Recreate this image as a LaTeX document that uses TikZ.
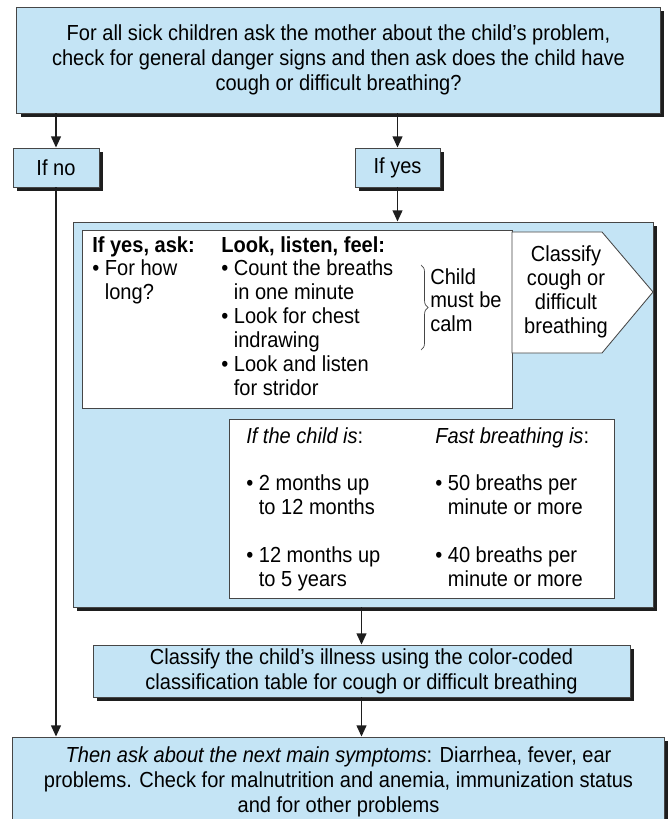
\documentclass[tikz,border=0pt]{standalone}
\usepackage{fontspec}
\setmainfont{Liberation Sans}[FakeStretch=0.92]
\usepackage{tikz}
\usetikzlibrary{positioning,arrows.meta,shadows,decorations.pathreplacing,calc}
\definecolor{celeste}{RGB}{196,228,245}
\definecolor{borde}{RGB}{70,70,70}
\definecolor{sombra}{RGB}{30,30,30}

\begin{document}
\begin{tikzpicture}[x=0.025cm, y=-0.025cm,
  caja/.style={draw=borde, fill=celeste, line width=0.6pt, inner sep=0pt,
               align=center, font=\fontsize{15.5}{17.8}\selectfont,
               drop shadow={shadow xshift=3pt, shadow yshift=-3pt,
                            fill=sombra, opacity=1}},
  blanca/.style={draw=borde, fill=white, line width=0.6pt, inner sep=0pt},
  texto/.style={anchor=north west, align=left, inner sep=0pt,
                font=\fontsize{15.5}{17}\selectfont},
  flecha/.style={-{Triangle[length=8pt, width=7pt]}, line width=1.2pt,
                 color=sombra}]
  \useasboundingbox (0,0) rectangle (670,819);
  % Pregunta inicial
  \node[caja, minimum width=16.075cm, minimum height=2.65cm] (inicio)
       at (338.5,60) {For all sick children ask the mother about the child’s problem,\\
       check for general danger signs and then ask does the child have\\
       cough or difficult breathing?};
  \node[caja, minimum width=2.15cm, minimum height=0.975cm] (no) at (56,167.5) {If no};
  \node[caja, minimum width=2.125cm, minimum height=0.975cm] (si) at (397.5,167.5) {If yes};
  % Marco de evaluacion
  \node[caja, minimum width=14.5cm, minimum height=9.625cm] (marco) at (363,414.5) {};
  \node[blanca, minimum width=10.75cm, minimum height=4.45cm] (preguntas) at (297,319) {};
  \draw[blanca] (512,232) coordinate (pa) -- (602,232) -- (653,292) coordinate (punta)
       -- (602,353) -- (512,353) -- cycle;
  \node[texto] (preguntar) at (92,236) {\textbf{If yes, ask:}\\
       • For how\\ \hphantom{• }long?};
  \node[texto] (mirar) at (221,236) {\textbf{Look, listen, feel:}\\
       • Count the breaths\\ \hphantom{• }in one minute\\
       • Look for chest\\ \hphantom{• }indrawing\\
       • Look and listen\\ \hphantom{• }for stridor};
  \draw[decorate, decoration={brace, amplitude=5pt}, line width=0.5pt, color=borde]
       (421,265) -- (421,350);
  \node[texto] (calma) at (430,268) {Child\\ must be\\ calm};
  \node[inner sep=0pt, align=center, font=\fontsize{15.5}{17}\selectfont] (clasif)
       at (566,292) {Classify\\ cough or\\ difficult\\ breathing};
  % Tabla de respiracion rapida
  \node[blanca, minimum width=9.625cm, minimum height=4.475cm] (tabla) at (421.5,508.5) {};
  \node[texto] (edad) at (246,427) {\textit{If the child is}:\\[17pt]
       • 2 months up\\ \hphantom{• }to 12 months\\[17pt]
       • 12 months up\\ \hphantom{• }to 5 years};
  \node[texto] (frecuencia) at (435,427) {\textit{Fast breathing is}:\\[17pt]
       • 50 breaths per\\ \hphantom{• }minute or more\\[17pt]
       • 40 breaths per\\ \hphantom{• }minute or more};
  % Clasificar y seguir
  \node[caja, minimum width=13.425cm, minimum height=1.3cm] (tabcolor) at (361.5,671)
       {Classify the child’s illness using the color-coded\\
       classification table for cough or difficult breathing};
  \node[caja, minimum width=16.275cm, minimum height=2.25cm] (siguiente) at (338.5,782)
       {\textit{Then ask about the next main symptoms}: Diarrhea, fever, ear\\
       problems. Check for malnutrition and anemia, immunization status\\
       and for other problems};
  % Flechas
  \draw[flecha] (inicio.south -| no) -- (no.north);
  \draw[flecha] (inicio.south -| si) -- (si.north);
  \draw[flecha] (si.south) -- (si.south |- marco.north);
  \draw[flecha] (tabcolor.north |- marco.south) -- (tabcolor.north);
  \draw[flecha] (tabcolor.south) -- (tabcolor.south |- siguiente.north);
  \draw[flecha] (no.south) -- (no.south |- siguiente.north);
\end{tikzpicture}
\end{document}
